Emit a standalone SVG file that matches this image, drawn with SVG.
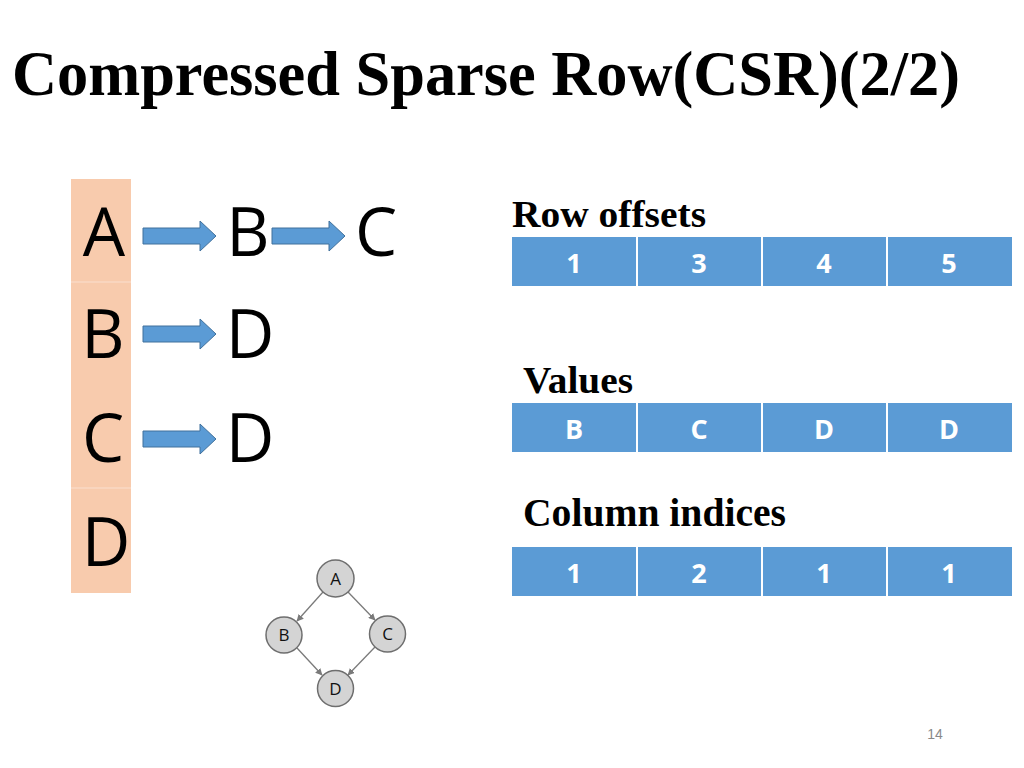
<svg xmlns="http://www.w3.org/2000/svg" width="1024" height="768" viewBox="0 0 1024 768">
<style>
.title{font-family:"Liberation Serif","Times New Roman",serif;font-weight:bold;fill:#000}
.big{font-family:"Open Sans","Liberation Sans",sans-serif;font-size:67px;fill:#000}
.cell{fill:#5B9BD5}
.sep{stroke:#ffffff;stroke-width:2}
.ct{font-family:"Open Sans","Liberation Sans",sans-serif;font-weight:bold;font-size:27px;fill:#fff;text-anchor:middle}
.barrow{fill:#5B9BD5;stroke:#41719C;stroke-width:1}
.gn{fill:#D4D4D4;stroke:#6E6E6E;stroke-width:1.5}
.gt{font-family:"Open Sans","Liberation Sans",sans-serif;font-size:17px;fill:#111;text-anchor:middle}
.ge{stroke:#7A7A7A;stroke-width:1.3;fill:none;marker-end:url(#ah)}
</style>
<defs>
<marker id="ah" viewBox="0 0 10 10" refX="9" refY="5" markerWidth="7" markerHeight="7" markerUnits="userSpaceOnUse" orient="auto">
<path d="M0,0 L10,5 L0,10 z" fill="#7A7A7A"/>
</marker>
<path id="blk" d="M0,-8 L57,-8 L57,-15 L73,0 L57,15 L57,8 L0,8 z"/>
</defs>
<rect width="1024" height="768" fill="#fff"/>
<text class="title" x="12" y="95" font-size="63" textLength="948" lengthAdjust="spacingAndGlyphs">Compressed Sparse Row(CSR)(2/2)</text>

<g id="adjacency-list">
<rect x="71" y="179" width="60" height="414" fill="#F8CBAD"/>
<line x1="71" y1="282" x2="131" y2="282" stroke="#FAD9C4" stroke-width="1.5"/>
<line x1="71" y1="488" x2="131" y2="488" stroke="#FAD9C4" stroke-width="1.5"/>
<text class="big" x="104" y="256" text-anchor="middle">A</text>
<text class="big" x="103" y="358" text-anchor="middle">B</text>
<text class="big" x="103" y="462" text-anchor="middle">C</text>
<text class="big" x="106" y="566" text-anchor="middle">D</text>
<text class="big" x="248" y="256" text-anchor="middle">B</text>
<text class="big" x="376" y="256" text-anchor="middle">C</text>
<text class="big" x="250" y="358" text-anchor="middle">D</text>
<text class="big" x="250" y="462" text-anchor="middle">D</text>
</g>

<g id="list-arrows">
<use href="#blk" class="barrow" x="143" y="236"/>
<use href="#blk" class="barrow" x="272" y="236"/>
<use href="#blk" class="barrow" x="143" y="334"/>
<use href="#blk" class="barrow" x="143" y="439"/>
</g>

<g id="row-offsets">
<text class="title" x="512" y="227" font-size="38" textLength="194" lengthAdjust="spacingAndGlyphs">Row offsets</text>
<rect class="cell" x="512" y="237" width="500" height="49"/>
<line class="sep" x1="637" y1="237" x2="637" y2="286"/>
<line class="sep" x1="762" y1="237" x2="762" y2="286"/>
<line class="sep" x1="887" y1="237" x2="887" y2="286"/>
<text class="ct" x="574" y="273">1</text>
<text class="ct" x="699" y="273">3</text>
<text class="ct" x="824" y="273">4</text>
<text class="ct" x="949" y="273">5</text>
</g>

<g id="values">
<text class="title" x="523" y="393" font-size="38" textLength="110" lengthAdjust="spacingAndGlyphs">Values</text>
<rect class="cell" x="512" y="403" width="500" height="49"/>
<line class="sep" x1="637" y1="403" x2="637" y2="452"/>
<line class="sep" x1="762" y1="403" x2="762" y2="452"/>
<line class="sep" x1="887" y1="403" x2="887" y2="452"/>
<text class="ct" x="574" y="439">B</text>
<text class="ct" x="699" y="439">C</text>
<text class="ct" x="824" y="439">D</text>
<text class="ct" x="949" y="439">D</text>
</g>

<g id="column-indices">
<text class="title" x="523" y="526" font-size="39" textLength="263" lengthAdjust="spacingAndGlyphs">Column indices</text>
<rect class="cell" x="512" y="547" width="500" height="49"/>
<line class="sep" x1="637" y1="547" x2="637" y2="596"/>
<line class="sep" x1="762" y1="547" x2="762" y2="596"/>
<line class="sep" x1="887" y1="547" x2="887" y2="596"/>
<text class="ct" x="574" y="583">1</text>
<text class="ct" x="699" y="583">2</text>
<text class="ct" x="824" y="583">1</text>
<text class="ct" x="949" y="583">1</text>
</g>

<g id="graph-edges">
<line class="ge" x1="323" y1="592" x2="297" y2="621"/>
<line class="ge" x1="348" y1="592" x2="375" y2="620"/>
<line class="ge" x1="297" y1="648" x2="322" y2="675"/>
<line class="ge" x1="375" y1="647" x2="348" y2="675"/>
</g>
<g id="node-A"><circle class="gn" cx="335.5" cy="578.5" r="18.5"/><text class="gt" x="335.5" y="584.5">A</text></g>
<g id="node-B"><circle class="gn" cx="284" cy="635" r="18"/><text class="gt" x="284" y="641">B</text></g>
<g id="node-C"><circle class="gn" cx="387.5" cy="634" r="18"/><text class="gt" x="387.5" y="640">C</text></g>
<g id="node-D"><circle class="gn" cx="335.5" cy="688.5" r="18"/><text class="gt" x="335.5" y="694.5">D</text></g>

<text x="935" y="739" font-family="Liberation Sans, Arial, sans-serif" font-size="14" fill="#898989" text-anchor="middle">14</text>
</svg>
